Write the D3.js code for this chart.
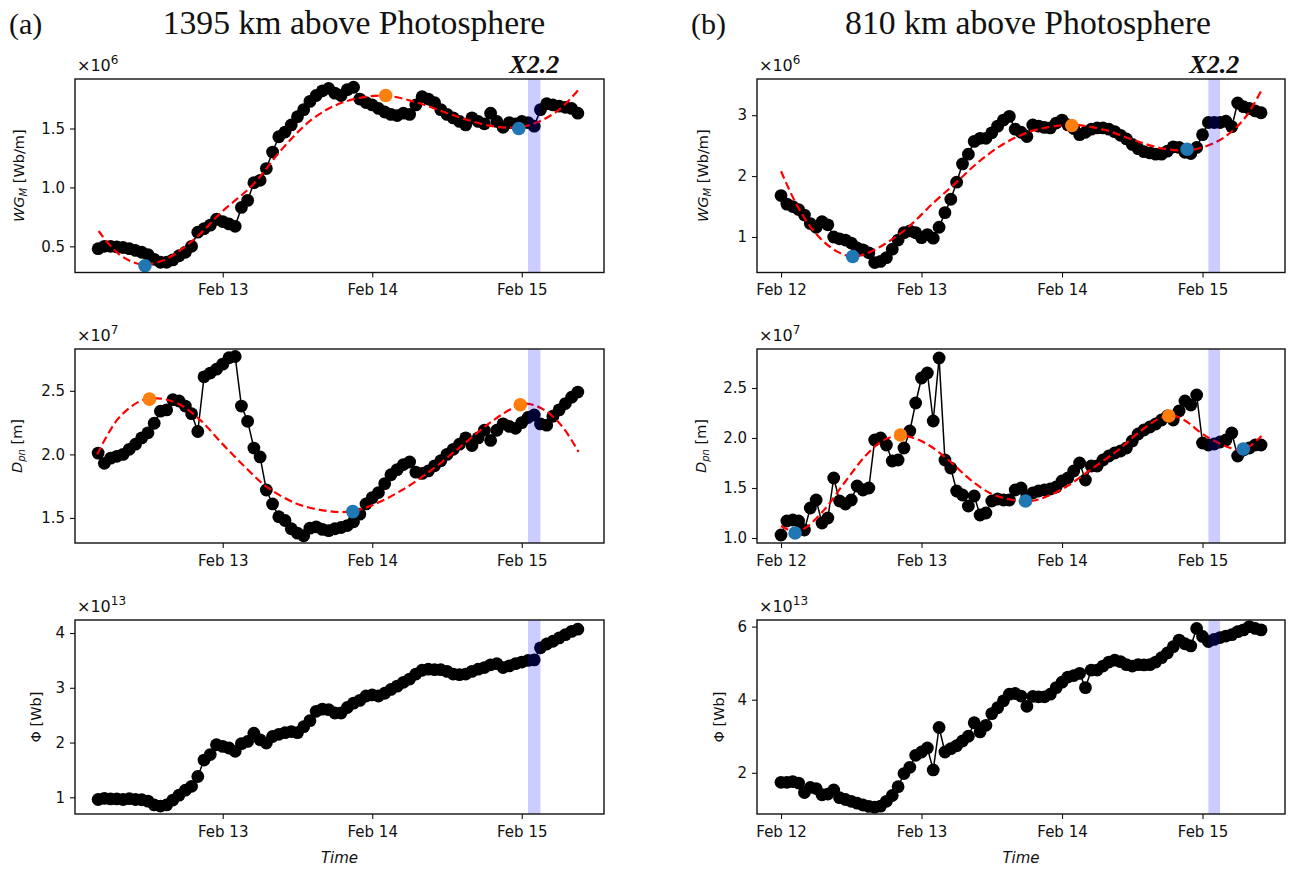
<!DOCTYPE html>
<html><head><meta charset="utf-8">
<script src="https://cdn.jsdelivr.net/npm/d3@7"></script>
<style>body{margin:0;background:#fff}svg{display:block}</style>
</head><body>
<svg id="fig" width="1289" height="869"></svg>
<script>
// ---------------- data ----------------
// hourly samples; left column (1395 km) starts 2011-02-12 04:00 UT, right column (810 km) at 00:00 UT
const startA = Date.UTC(2011, 1, 12, 4);
const startB = Date.UTC(2011, 1, 12, 0);

// WG_M [x1e6 Wb/m], 1395 km
const wgA = [0.48,0.50,0.50,0.495,0.49,0.48,0.465,0.45,0.43,0.39,
  0.365,0.365,0.385,0.42,0.45,0.50,0.62,0.65,0.68,0.73,
  0.71,0.69,0.67,0.83,0.89,1.04,1.06,1.16,1.30,1.43,
  1.47,1.53,1.60,1.66,1.73,1.78,1.82,1.84,1.80,1.78,
  1.83,1.85,1.75,1.72,1.70,1.67,1.64,1.62,1.61,1.63,
  1.62,1.70,1.77,1.75,1.72,1.66,1.62,1.59,1.56,1.53,
  1.59,1.56,1.54,1.63,1.56,1.51,1.55,1.54,1.56,1.55,
  1.52,1.66,1.71,1.70,1.69,1.68,1.67,1.63];
// D_pn [x1e7 m], 1395 km
const dpnA = [2.01,1.93,1.97,1.985,2.00,2.04,2.08,2.13,2.17,2.245,
  2.34,2.35,2.43,2.42,2.38,2.32,2.18,2.61,2.64,2.67,
  2.71,2.76,2.77,2.38,2.26,2.05,1.98,1.72,1.61,1.51,
  1.48,1.415,1.38,1.36,1.42,1.43,1.41,1.40,1.415,1.425,
  1.44,1.47,1.53,1.61,1.66,1.70,1.77,1.84,1.88,1.92,
  1.94,1.86,1.85,1.87,1.91,1.95,2.00,2.04,2.08,2.13,
  2.07,2.13,2.19,2.11,2.19,2.24,2.22,2.205,2.25,2.29,
  2.31,2.24,2.23,2.30,2.35,2.40,2.45,2.49];
// Phi [x1e13 Wb], 1395 km
const phiA = [0.96,0.98,0.97,0.97,0.96,0.975,0.96,0.955,0.93,0.86,
  0.84,0.86,0.95,1.04,1.13,1.20,1.38,1.68,1.78,1.96,
  1.93,1.90,1.84,1.98,2.02,2.17,2.05,1.99,2.11,2.15,
  2.18,2.20,2.18,2.29,2.40,2.57,2.61,2.60,2.54,2.54,
  2.64,2.72,2.77,2.85,2.87,2.85,2.90,2.97,3.03,3.10,
  3.16,3.25,3.32,3.34,3.33,3.33,3.30,3.25,3.24,3.25,
  3.30,3.34,3.37,3.42,3.44,3.37,3.40,3.44,3.47,3.50,
  3.51,3.73,3.80,3.85,3.91,3.97,4.03,4.07];

// WG_M [x1e6 Wb/m], 810 km
const wgB = [1.68,1.54,1.50,1.45,1.36,1.22,1.16,1.25,1.20,1.00,
  0.97,0.95,0.90,0.82,0.79,0.74,0.58,0.60,0.66,0.80,
  0.95,1.07,1.10,1.07,0.99,1.04,0.98,1.16,1.40,1.62,
  1.90,2.20,2.36,2.57,2.62,2.62,2.71,2.82,2.92,2.98,
  2.77,2.72,2.65,2.84,2.82,2.80,2.79,2.87,2.92,2.84,
  2.78,2.68,2.72,2.77,2.79,2.79,2.77,2.73,2.67,2.61,
  2.52,2.45,2.40,2.38,2.36,2.36,2.41,2.48,2.47,2.39,
  2.37,2.47,2.68,2.88,2.88,2.88,2.90,2.81,3.20,3.14,
  3.11,3.07,3.04];
// D_pn [x1e7 m], 810 km
const dpnB = [1.03,1.17,1.18,1.17,1.08,1.30,1.38,1.15,1.20,1.60,
  1.37,1.34,1.38,1.52,1.48,1.50,1.98,2.00,1.93,1.77,
  1.78,1.90,2.07,2.35,2.60,2.65,2.17,2.80,1.78,1.70,
  1.47,1.43,1.32,1.42,1.23,1.25,1.37,1.39,1.38,1.38,
  1.48,1.50,1.42,1.45,1.47,1.48,1.49,1.51,1.57,1.60,
  1.67,1.75,1.58,1.72,1.72,1.78,1.82,1.85,1.87,1.90,
  1.97,2.04,2.08,2.11,2.14,2.18,2.22,2.18,2.27,2.37,
  2.33,2.43,1.95,1.93,1.94,1.96,1.98,2.05,1.82,1.88,
  1.90,1.93,1.93];
// Phi [x1e13 Wb], 810 km
const phiB = [1.74,1.74,1.76,1.72,1.46,1.60,1.57,1.40,1.42,1.53,
  1.32,1.27,1.22,1.17,1.12,1.08,1.06,1.09,1.22,1.38,
  1.62,1.98,2.15,2.48,2.57,2.68,2.08,3.24,2.57,2.66,
  2.74,2.87,3.00,3.37,3.12,3.30,3.62,3.78,3.97,4.15,
  4.17,4.10,3.82,4.09,4.08,4.08,4.15,4.33,4.48,4.62,
  4.66,4.72,4.33,4.81,4.81,4.92,5.03,5.08,5.04,4.96,
  4.92,4.96,4.95,4.96,5.03,5.15,5.28,5.45,5.63,5.53,
  5.47,5.95,5.73,5.59,5.65,5.70,5.74,5.78,5.86,5.91,
  6.00,5.95,5.91];

// fitted trend curves (day of Feb 2011, value)
const fitWgA_day = [12.17,12.30,12.445,12.6,12.8,13.0,13.2,13.4,13.6,13.8,14.07,14.3,14.5,14.645,14.8,14.97,15.1,15.25,15.38];
const fitWgA_val = [0.63,0.44,0.35,0.38,0.55,0.80,1.02,1.33,1.58,1.72,1.78,1.72,1.63,1.57,1.52,1.51,1.55,1.66,1.83];
const fitDpnA_day = [12.16,12.3,12.45,12.57,12.7,12.85,13.0,13.15,13.3,13.5,13.7,13.85,14.0,14.2,14.4,14.6,14.8,14.95,15.03,15.15,15.27,15.38];
const fitDpnA_val = [2.0,2.28,2.42,2.44,2.40,2.27,2.08,1.90,1.74,1.61,1.555,1.55,1.60,1.72,1.88,2.07,2.26,2.37,2.40,2.35,2.22,2.02];
const fitWgB_day = [12.0,12.1,12.2,12.3,12.4,12.5,12.6,12.75,12.9,13.08,13.25,13.4,13.6,13.8,14.07,14.3,14.5,14.7,14.88,15.0,15.15,15.3,15.42];
const fitWgB_val = [2.08,1.58,1.20,0.93,0.76,0.68,0.72,0.90,1.15,1.55,1.90,2.22,2.55,2.75,2.84,2.76,2.60,2.46,2.42,2.47,2.63,2.95,3.41];
const fitDpnB_day = [12.0,12.08,12.15,12.3,12.45,12.6,12.72,12.82,12.92,13.05,13.2,13.35,13.5,13.65,13.78,13.9,14.05,14.2,14.4,14.55,14.7,14.78,14.88,15.0,15.1,15.2,15.29,15.42];
const fitDpnB_val = [1.12,1.07,1.08,1.27,1.55,1.82,1.97,2.02,2.01,1.93,1.77,1.58,1.44,1.38,1.37,1.42,1.53,1.68,1.88,2.06,2.20,2.23,2.17,2.04,1.96,1.90,1.88,2.02];

// extrema of the fits: [day, value, kind]
const extWgA  = [[12.48,0.335,"min"],[14.09,1.78,"max"],[14.98,1.50,"min"]];
const extDpnA = [[12.51,2.435,"max"],[13.87,1.55,"min"],[14.99,2.39,"max"]];
const extWgB  = [[12.51,0.68,"min"],[14.07,2.83,"max"],[14.89,2.44,"min"]];
const extDpnB = [[12.10,1.05,"min"],[12.85,2.03,"max"],[13.74,1.37,"min"],[14.76,2.22,"max"],[15.29,1.89,"min"]];

// X2.2 flare interval
const flareStart = "2011-02-15T01:00:00Z";
const flareEnd   = "2011-02-15T03:00:00Z";
const flareLabel = "X2.2";

// y-axis ticks
const ticksWgA = [0.5,1.0,1.5], ticksDpnA = [1.5,2.0,2.5], ticksPhiA = [1,2,3,4];
const ticksWgB = [1,2,3], ticksDpnB = [1.0,1.5,2.0,2.5], ticksPhiB = [2,4,6];
const dayTicks = [12,13,14,15];

// ---------------- drawing ----------------
const W = 1289, H = 869;
const svg = d3.select("#fig");
svg.append("rect").attr("width", W).attr("height", H).attr("fill", "#fff");

const FONT = "'DejaVu Sans', sans-serif";
const SERIF = "'Liberation Serif', 'Times New Roman', serif";
const dayToDate = d => new Date(Date.UTC(2011, 1, 0) + d * 864e5);
const hourly = (start, n) => d3.range(n).map(i => new Date(start + i * 36e5));

const cols = [
  {x0: 75,  x1: 604,  dom: [12.012, 15.55], start: startA, tag: "(a)", tagX: 9,   titleX: 354,  title: "1395 km above Photosphere"},
  {x0: 757, x1: 1285, dom: [11.829, 15.587], start: startB, tag: "(b)", tagX: 691, titleX: 1028, title: "810 km above Photosphere"}
];
const rows = [[79, 272.5], [349, 543], [620, 814]];
const colors = {min: "#1f77b4", max: "#ff7f0e"};

const panels = [
  {c: 0, r: 0, vals: wgA,  fit: [fitWgA_day, fitWgA_val],   ext: extWgA,  dom: [0.278, 1.92], ticks: ticksWgA,  fmt: ".1f", exp: "6",  lab: "wg",  labX: 19},
  {c: 0, r: 1, vals: dpnA, fit: [fitDpnA_day, fitDpnA_val], ext: extDpnA, dom: [1.303, 2.829], ticks: ticksDpnA, fmt: ".1f", exp: "7",  lab: "dpn", labX: 17},
  {c: 0, r: 2, vals: phiA, fit: null, ext: [], dom: [0.695, 4.238], ticks: ticksPhiA, fmt: "d", exp: "13", lab: "phi", labX: 36},
  {c: 1, r: 0, vals: wgB,  fit: [fitWgB_day, fitWgB_val],   ext: extWgB,  dom: [0.417, 3.594], ticks: ticksWgB,  fmt: "d", exp: "6",  lab: "wg",  labX: 703},
  {c: 1, r: 1, vals: dpnB, fit: [fitDpnB_day, fitDpnB_val], ext: extDpnB, dom: [0.95, 2.89],  ticks: ticksDpnB, fmt: ".1f", exp: "7",  lab: "dpn", labX: 701},
  {c: 1, r: 2, vals: phiB, fit: null, ext: [], dom: [0.874, 6.18], ticks: ticksPhiB, fmt: "d", exp: "13", lab: "phi", labX: 719}
];

// column headings
cols.forEach(col => {
  svg.append("text").attr("x", col.tagX).attr("y", 34)
    .attr("font-family", SERIF).attr("font-size", 30).attr("fill", "#111").text(col.tag);
  svg.append("text").attr("x", col.titleX).attr("y", 34).attr("text-anchor", "middle")
    .attr("font-family", SERIF).attr("font-size", 33.7).attr("fill", "#111").text(col.title);
});

function yLabel(g, kind, x, yc) {
  const t = g.append("text").attr("transform", `translate(${x},${yc}) rotate(-90)`)
    .attr("text-anchor", "middle").attr("font-family", FONT).attr("font-size", 14.5).attr("fill", "#111")
    .attr("dy", "0.35em");
  if (kind === "wg") {
    t.append("tspan").attr("font-style", "italic").text("WG");
    t.append("tspan").attr("font-style", "italic").attr("font-size", 10).attr("dy", 3).text("M");
    t.append("tspan").attr("dy", -3).text(" [Wb/m]");
  } else if (kind === "dpn") {
    t.append("tspan").attr("font-style", "italic").text("D");
    t.append("tspan").attr("font-style", "italic").attr("font-size", 10).attr("dy", 3).text("pn");
    t.append("tspan").attr("dy", -3).text(" [m]");
  } else {
    t.append("tspan").text("\u03A6 [Wb]");
  }
}

panels.forEach((p, i) => {
  const col = cols[p.c], [y0, y1] = rows[p.r];
  const times = hourly(col.start, p.vals.length);
  const x = d3.scaleUtc().domain(col.dom.map(dayToDate)).range([col.x0, col.x1]);
  const y = d3.scaleLinear().domain(p.dom).range([y1, y0]);
  const g = svg.append("g");

  const clipId = "clip" + i;
  svg.append("clipPath").attr("id", clipId).append("rect")
    .attr("x", col.x0).attr("y", y0).attr("width", col.x1 - col.x0).attr("height", y1 - y0);
  const plot = g.append("g").attr("clip-path", `url(#${clipId})`);

  // observed series: connecting line + markers
  const pts = times.map((t, k) => [t, p.vals[k]]);
  plot.append("path").datum(pts)
    .attr("d", d3.line().x(d => x(d[0])).y(d => y(d[1])))
    .attr("fill", "none").attr("stroke", "#000").attr("stroke-width", 1.5);
  plot.selectAll("circle.obs").data(pts).join("circle").attr("class", "obs")
    .attr("cx", d => x(d[0])).attr("cy", d => y(d[1])).attr("r", 6.4).attr("fill", "#000");

  // fitted trend
  if (p.fit) {
    const fp = p.fit[0].map((d, k) => [dayToDate(d), p.fit[1][k]]);
    plot.append("path").datum(fp)
      .attr("d", d3.line().curve(d3.curveCatmullRom.alpha(0.5)).x(d => x(d[0])).y(d => y(d[1])))
      .attr("fill", "none").attr("stroke", "#ff0000").attr("stroke-width", 2.2)
      .attr("stroke-dasharray", "8,4");
  }
  // turning points of the fit
  plot.selectAll("circle.ext").data(p.ext).join("circle").attr("class", "ext")
    .attr("cx", d => x(dayToDate(d[0]))).attr("cy", d => y(d[1])).attr("r", 6.8)
    .attr("fill", d => colors[d[2]]);

  // flare interval
  const fs = new Date(flareStart), fe = new Date(flareEnd);
  plot.append("rect").attr("x", x(fs)).attr("y", y0).attr("width", x(fe) - x(fs)).attr("height", y1 - y0)
    .attr("fill", "#0000ff").attr("fill-opacity", 0.2);
  if (p.r === 0) {
    g.append("text").attr("x", (x(fs) + x(fe)) / 2).attr("y", 73).attr("text-anchor", "middle")
      .attr("font-family", SERIF).attr("font-weight", "bold").attr("font-style", "italic")
      .attr("font-size", 26).attr("fill", "#111").text(flareLabel);
  }

  // axes
  const xt = dayTicks.map(dayToDate).filter(d => d >= x.domain()[0] && d <= x.domain()[1]);
  const xa = g.append("g").attr("transform", `translate(0,${y1})`)
    .call(d3.axisBottom(x).tickValues(xt).tickFormat(d3.utcFormat("%b %-d")).tickSize(5).tickPadding(7));
  const ya = g.append("g").attr("transform", `translate(${col.x0},0)`)
    .call(d3.axisLeft(y).tickValues(p.ticks).tickFormat(d3.format(p.fmt)).tickSize(5).tickPadding(5));
  [xa, ya].forEach(a => {
    a.select(".domain").remove();
    a.selectAll("line").attr("stroke", "#111").attr("stroke-width", 1.1);
    a.selectAll("text").attr("font-family", FONT).attr("font-size", 15).attr("fill", "#111");
  });

  // frame
  g.append("rect").attr("x", col.x0).attr("y", y0).attr("width", col.x1 - col.x0).attr("height", y1 - y0)
    .attr("fill", "none").attr("stroke", "#111").attr("stroke-width", 1.4);

  // scale factor
  const ex = g.append("text").attr("x", col.x0 + 2).attr("y", y0 - 8)
    .attr("font-family", FONT).attr("font-size", 16).attr("fill", "#111");
  ex.append("tspan").text("\u00D710");
  ex.append("tspan").attr("font-size", 12).attr("dy", -7).text(p.exp);

  yLabel(g, p.lab, p.labX, (y0 + y1) / 2);

  if (p.r === 2) {
    g.append("text").attr("x", (col.x0 + col.x1) / 2).attr("y", 863).attr("text-anchor", "middle")
      .attr("font-family", FONT).attr("font-style", "italic").attr("font-size", 15).attr("fill", "#111")
      .text("Time");
  }
});
</script>
</body></html>
